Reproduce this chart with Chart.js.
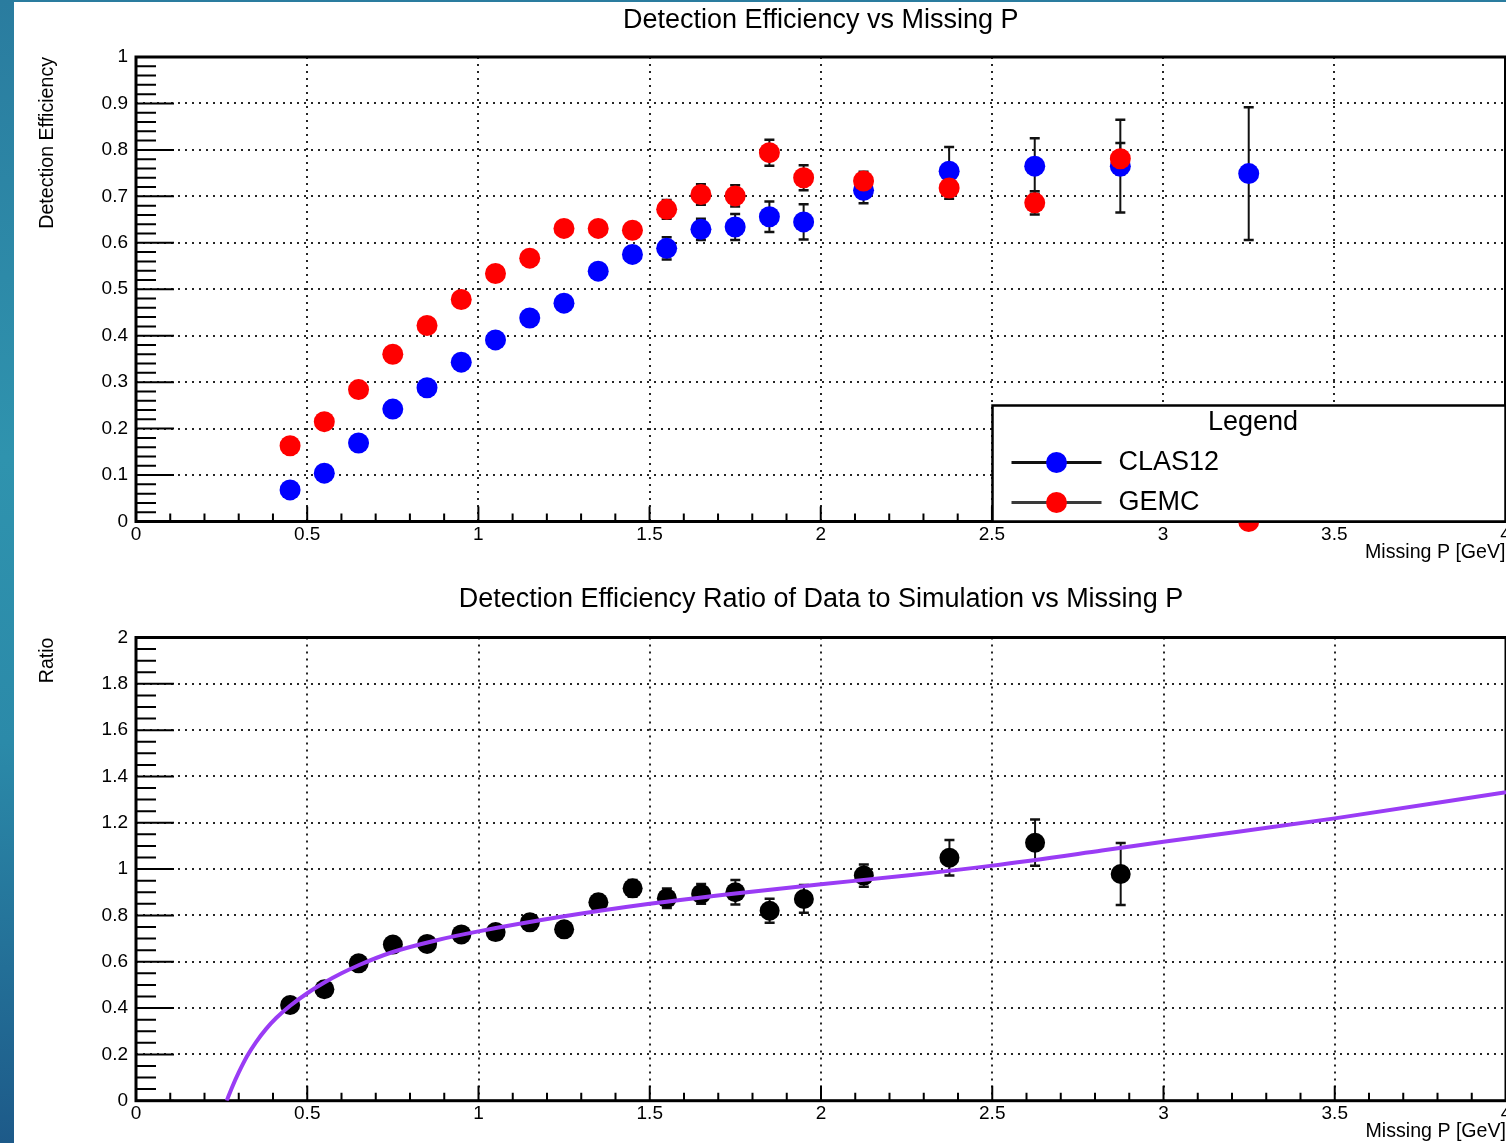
<!DOCTYPE html>
<html>
<head>
<meta charset="utf-8">
<title>Detection Efficiency vs Missing P</title>
<script src="https://cdn.jsdelivr.net/npm/chart.js@4.4.1/dist/chart.umd.min.js"></script>
<style>
  html, body { margin: 0; padding: 0; }
  body {
    width: 1506px; height: 1143px; overflow: hidden; position: relative;
    background: linear-gradient(to bottom, #2a7c9f 0%, #2f93ae 40%, #2b8aa9 65%, #1d5a89 100%);
  }
  #sheet { position: absolute; left: 14px; top: 2px; width: 1492px; height: 1141px; background: #fff; }
  canvas { position: absolute; left: 0; }
  #effCanvas { top: 0; width: 1516px; height: 570px; }
  #ratioCanvas { top: 570px; width: 1516px; height: 573px; }
</style>
</head>
<body>
<div id="sheet"></div>
<canvas id="effCanvas" width="1516" height="570"></canvas>
<canvas id="ratioCanvas" width="1516" height="573"></canvas>
<script>
// ---- data: bin centres in missing momentum [GeV] ----
const binCenters = [0.45, 0.55, 0.65, 0.75, 0.85, 0.95, 1.05, 1.15, 1.25, 1.35, 1.45,
                    1.55, 1.65, 1.75, 1.85, 1.95, 2.125, 2.375, 2.625, 2.875, 3.25];

// CLAS12 data efficiency and uncertainty
const clas12Eff = [0.068, 0.104, 0.169, 0.242, 0.288, 0.343, 0.391, 0.438, 0.470, 0.539, 0.575,
                   0.588, 0.629, 0.634, 0.656, 0.645, 0.713, 0.754, 0.765, 0.765, 0.749];
const clas12Err = [0.004, 0.005, 0.006, 0.007, 0.008, 0.009, 0.010, 0.011, 0.012, 0.014, 0.016,
                   0.024, 0.023, 0.028, 0.033, 0.038, 0.028, 0.052, 0.060, 0.100, 0.143];

// GEMC simulated efficiency and uncertainty
const gemcEff = [0.163, 0.215, 0.284, 0.360, 0.422, 0.478, 0.534, 0.567, 0.631, 0.631, 0.627,
                 0.672, 0.704, 0.701, 0.794, 0.740, 0.733, 0.718, 0.686, 0.781, 0.000];
const gemcErr = [0.004, 0.005, 0.006, 0.007, 0.008, 0.009, 0.010, 0.011, 0.012, 0.013, 0.014,
                 0.020, 0.022, 0.023, 0.028, 0.027, 0.020, 0.023, 0.025, 0.034, 0.000];

// data / simulation ratio (first 20 bins)
const ratioValues = [0.413, 0.481, 0.593, 0.674, 0.677, 0.718, 0.728, 0.770, 0.740, 0.857,
                     0.917, 0.874, 0.893, 0.900, 0.820, 0.871, 0.972, 1.049, 1.114, 0.979];
const ratioErrors = [0.012, 0.014, 0.016, 0.018, 0.020, 0.022, 0.024, 0.026, 0.028, 0.032,
                     0.036, 0.042, 0.043, 0.053, 0.052, 0.060, 0.048, 0.077, 0.100, 0.134];

// fitted ratio curve, sampled
const fitX = [0.265, 0.28, 0.30, 0.325, 0.35, 0.38, 0.41, 0.45, 0.50, 0.55, 0.60, 0.65,
              0.75, 0.875, 1.00, 1.25, 1.50, 1.75, 2.00, 2.25, 2.50, 2.82, 3.00, 3.50, 4.00];
const fitY = [0.000, 0.056, 0.122, 0.194, 0.252, 0.310, 0.358, 0.410, 0.464, 0.510, 0.550, 0.585,
              0.642, 0.692, 0.731, 0.796, 0.850, 0.895, 0.935, 0.972, 1.015, 1.080, 1.118, 1.219, 1.332];

// tick labels
const xTickValues = [0, 0.5, 1, 1.5, 2, 2.5, 3, 3.5, 4];
const effTickValues = [0, 0.1, 0.2, 0.3, 0.4, 0.5, 0.6, 0.7, 0.8, 0.9, 1];
const ratioTickValues = [0, 0.2, 0.4, 0.6, 0.8, 1, 1.2, 1.4, 1.6, 1.8, 2];

// ---- styling ----
const FONT = "'Liberation Sans', Arial, Helvetica, sans-serif";
const tickFont = { family: FONT, size: 19, lineHeight: 1.2 };
const axisTitleFont = { family: FONT, size: 19.6, lineHeight: 1.2 };
const titleFont = { family: FONT, size: 27, weight: 'normal', lineHeight: 1.2 };
const gridColor = 'rgba(0,0,0,0.85)';
const fmt = v => String(Math.round(v * 100) / 100);

// ROOT-style frame with inward major/minor ticks
const rootFrame = {
  id: 'rootFrame',
  beforeDatasetsDraw(chart, args, opts) {
    const { ctx, chartArea: a, scales: { x, y } } = chart;
    ctx.save();
    ctx.strokeStyle = '#000';
    ctx.lineWidth = 2;
    ctx.beginPath();
    const nx = Math.round((x.max - x.min) / opts.xMinor);
    for (let i = 0; i <= nx; i++) {
      const px = x.getPixelForValue(x.min + i * opts.xMinor);
      const len = (i % opts.xPer === 0) ? 15 : 8;
      ctx.moveTo(px, a.bottom);
      ctx.lineTo(px, a.bottom - len);
    }
    const ny = Math.round((y.max - y.min) / opts.yMinor);
    for (let i = 0; i <= ny; i++) {
      const py = y.getPixelForValue(y.min + i * opts.yMinor);
      const len = (i % opts.yPer === 0) ? 38 : 20;
      ctx.moveTo(a.left, py);
      ctx.lineTo(a.left + len, py);
    }
    ctx.stroke();
    ctx.lineWidth = 3;
    ctx.strokeRect(a.left, a.top, a.right - a.left, a.bottom - a.top);
    ctx.restore();
  }
};

// vertical error bars with caps, read from each dataset's "errors" array
const errorBars = {
  id: 'errorBars',
  beforeDatasetsDraw(chart) {
    const { ctx } = chart;
    const yScale = chart.scales.y;
    ctx.save();
    ctx.strokeStyle = '#111';
    chart.data.datasets.forEach((ds, di) => {
      if (!ds.errors) return;
      const meta = chart.getDatasetMeta(di);
      meta.data.forEach((el, i) => {
        const e = ds.errors[i];
        if (!e) return;
        const v = ds.data[i].y;
        const yt = yScale.getPixelForValue(v + e);
        const yb = yScale.getPixelForValue(v - e);
        ctx.lineWidth = 2;
        ctx.beginPath();
        ctx.moveTo(el.x, yt); ctx.lineTo(el.x, yb);
        ctx.stroke();
        ctx.lineWidth = 2.5;
        ctx.beginPath();
        ctx.moveTo(el.x - 5, yt); ctx.lineTo(el.x + 5, yt);
        ctx.moveTo(el.x - 5, yb); ctx.lineTo(el.x + 5, yb);
        ctx.stroke();
      });
    });
    ctx.restore();
  }
};

// boxed legend in the lower-right corner of the efficiency pad
const boxLegend = {
  id: 'boxLegend',
  afterDraw(chart) {
    const { ctx, chartArea: a } = chart;
    const R = a.right, B = a.bottom, L = R - 513, T = B - 116;
    ctx.save();
    ctx.fillStyle = '#fff';
    ctx.fillRect(L, T, R - L, B - T);
    ctx.lineWidth = 2.5;
    ctx.strokeStyle = '#000';
    ctx.strokeRect(L, T, R - L, B - T);
    ctx.fillStyle = '#000';
    ctx.textBaseline = 'middle';
    ctx.font = `27px ${FONT}`;
    ctx.textAlign = 'center';
    ctx.fillText('Legend', (L + R) / 2 + 4, T + 17);
    ctx.textAlign = 'left';
    const entries = chart.data.datasets.slice().sort((p, q) => p.legendRank - q.legendRank);
    entries.forEach((ds, i) => {
      const yy = T + 57 + i * 40;
      ctx.strokeStyle = i === 0 ? '#111' : '#3a3a3a';
      ctx.lineWidth = 3;
      ctx.beginPath();
      ctx.moveTo(L + 19, yy); ctx.lineTo(L + 109, yy);
      ctx.stroke();
      ctx.fillStyle = ds.backgroundColor;
      ctx.beginPath();
      ctx.arc(L + 64, yy, 10.5, 0, Math.PI * 2);
      ctx.fill();
      ctx.fillStyle = '#000';
      ctx.fillText(ds.label, L + 126, yy);
    });
    ctx.restore();
  }
};

function xAxis(height, titlePadBottom) {
  return {
    type: 'linear', position: 'bottom', min: 0, max: 4,
    grid: { color: gridColor, lineWidth: 2, drawTicks: false },
    border: { display: false, dash: [2, 5] },
    ticks: { autoSkip: false, maxRotation: 0, padding: 2, color: '#000', font: tickFont, callback: fmt },
    afterBuildTicks: s => { s.ticks = xTickValues.map(v => ({ value: v })); },
    afterFit: s => { s.height = height; s.paddingLeft = 0; s.paddingRight = 0; },
    title: { display: true, text: 'Missing P [GeV]', align: 'end', color: '#000',
             font: axisTitleFont, padding: { top: 0, bottom: titlePadBottom } }
  };
}

function yAxis(max, tickValues, text) {
  return {
    type: 'linear', position: 'left', min: 0, max: max,
    grid: { color: gridColor, lineWidth: 2, drawTicks: false },
    border: { display: false, dash: [2, 5] },
    ticks: { autoSkip: false, padding: 8, color: '#000', font: tickFont, callback: fmt },
    afterBuildTicks: s => { s.ticks = tickValues.map(v => ({ value: v })); },
    afterFit: s => { s.width = 136; s.paddingTop = 0; s.paddingBottom = 0; },
    title: { display: true, text: text, align: 'end', color: '#000',
             font: axisTitleFont, padding: { top: 35.5, bottom: 0 } }
  };
}

const pts = (xs, ys) => ys.map((v, i) => ({ x: xs[i], y: v }));

Chart.defaults.font.family = FONT;

// ---- efficiency pad ----
new Chart(document.getElementById('effCanvas'), {
  type: 'scatter',
  data: {
    datasets: [
      { label: 'CLAS12', legendRank: 0, data: pts(binCenters, clas12Eff), errors: clas12Err,
        backgroundColor: '#0000ff', pointRadius: 10.5, pointHoverRadius: 10.5,
        pointBorderWidth: 0, borderWidth: 0, clip: false, order: 2 },
      { label: 'GEMC', legendRank: 1, data: pts(binCenters, gemcEff), errors: gemcErr,
        backgroundColor: '#ff0000', pointRadius: 10.5, pointHoverRadius: 10.5,
        pointBorderWidth: 0, borderWidth: 0, clip: false, order: 1 }
    ]
  },
  options: {
    responsive: false, maintainAspectRatio: false, animation: false, events: [],
    layout: { padding: { left: 0, right: 1, top: 0, bottom: 0 } },
    scales: { x: xAxis(48.5, 5.3), y: yAxis(1, effTickValues, 'Detection Efficiency') },
    plugins: {
      legend: { display: false },
      tooltip: { enabled: false },
      title: { display: true, fullSize: false, text: 'Detection Efficiency vs Missing P',
               color: '#000', font: titleFont, padding: { top: 4.5, bottom: 20.1 } },
      rootFrame: { xMinor: 0.1, xPer: 5, yMinor: 0.02, yPer: 5 }
    }
  },
  plugins: [rootFrame, errorBars, boxLegend]
});

// ---- ratio pad ----
new Chart(document.getElementById('ratioCanvas'), {
  type: 'scatter',
  data: {
    datasets: [
      { label: 'Fit', data: pts(fitX, fitY), showLine: true, borderColor: '#9a3cf5',
        borderWidth: 4, pointRadius: 0, cubicInterpolationMode: 'monotone', order: 1 },
      { label: 'Data / Simulation', data: pts(binCenters, ratioValues), errors: ratioErrors,
        backgroundColor: '#000000', pointRadius: 10, pointHoverRadius: 10,
        pointBorderWidth: 0, borderWidth: 0, clip: false, order: 2 }
    ]
  },
  options: {
    responsive: false, maintainAspectRatio: false, animation: false, events: [],
    layout: { padding: { left: 0, right: 1, top: 0, bottom: 0 } },
    scales: { x: xAxis(42.3, 0), y: yAxis(2, ratioTickValues, 'Ratio') },
    plugins: {
      legend: { display: false },
      tooltip: { enabled: false },
      title: { display: true, fullSize: false,
               text: 'Detection Efficiency Ratio of Data to Simulation vs Missing P',
               color: '#000', font: titleFont, padding: { top: 13.8, bottom: 21.3 } },
      rootFrame: { xMinor: 0.1, xPer: 5, yMinor: 0.05, yPer: 4 }
    }
  },
  plugins: [rootFrame, errorBars]
});
</script>
</body>
</html>
